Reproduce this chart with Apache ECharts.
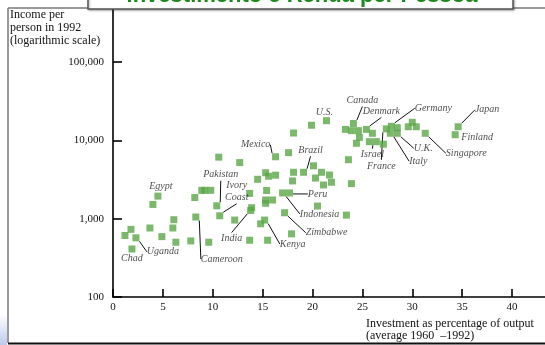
<!DOCTYPE html>
<html>
<head>
<meta charset="utf-8">
<script src="https://cdn.jsdelivr.net/npm/echarts@6/dist/echarts.min.js"></script>
<style>
  html, body { margin: 0; padding: 0; background: #fff; }
  #chart { width: 545px; height: 345px; }
</style>
</head>
<body>
<div id="chart"></div>
<script>
// Investment share of output (average 1960-1992, %) and income per person in 1992 (US$)
const investment = [1.2, 1.8, 2.3, 1.9, 3.7, 4.9, 4.5, 4.0, 6.0, 6.1, 6.3, 7.8, 8.2, 8.3, 8.9, 9.2, 9.8, 9.6, 10.4, 10.7,
  10.6, 12.7, 12.2, 13.7, 13.9, 13.8, 13.7, 14.5, 14.8, 15.2, 15.3, 15.6, 16.3, 15.4, 15.3, 15.3, 16.0, 15.5, 16.3, 17.6,
  17.0, 17.7, 17.2, 17.9, 18.1, 18.1, 19.1, 18.0, 19.9, 21.4, 20.1, 20.3, 20.9, 21.7, 21.1, 21.9, 20.5, 23.3, 23.9, 24.6,
  24.1, 25.4, 26.0, 24.7, 24.4, 25.7, 26.4, 27.1, 27.4, 27.9, 27.8, 28.5, 28.5, 29.6, 30.0, 30.4, 31.3, 34.6, 34.3, 23.6,
  23.9, 23.4];
const income = [610, 730, 570, 410, 760, 590, 1940, 1520, 760, 970, 500, 520, 1860, 1050, 2300, 2300, 2300, 500, 1460, 1090,
  6100, 5200, 960, 2100, 1380, 1270, 530, 3180, 860, 960, 3860, 3480, 3590, 2290, 1730, 1570, 1730, 530, 6170, 6960,
  2130, 2130, 1190, 640, 12400, 3910, 3910, 3030, 15600, 17800, 4730, 3300, 3910, 3610, 2690, 2920, 1450, 13800, 13300, 13300,
  16400, 13800, 12300, 10900, 9170, 9610, 9610, 8930, 14000, 15100, 12300, 14500, 12300, 14900, 17000, 14900, 12300, 14900, 11800, 5660,
  2800, 1110];
const countries = ['', '', 'Uganda', 'Chad', '', '', 'Egypt', '', '', '', '', '', '', 'Cameroon', '', '', '', '', 'Pakistan', 'Ivory Coast',
  '', '', '', '', '', 'India', '', '', '', 'Kenya', '', '', '', '', '', '', '', '', 'Mexico', '',
  'Indonesia', 'Peru', 'Zimbabwe', '', '', '', 'Brazil', '', '', 'U.S.', '', '', '', '', '', '', '', '', '', '',
  'Canada', 'Denmark', '', '', '', '', 'Israel', '', 'France', 'Germany', 'Italy', '', 'U.K.', '', '', '', 'Singapore', 'Japan', 'Finland', '',
  '', ''];
const xTicks = [0, 5, 10, 15, 20, 25, 30, 35, 40];
const yTicks = [100, 1000, 10000, 100000];

// where each country name sits relative to its square (px)
const labelShift = {
  'Canada': [9, -23], 'Denmark': [15, -18], 'Germany': [42, -18], 'Japan': [29, -17], 'Finland': [22, 3],
  'Singapore': [41, 20], 'U.K.': [26, 15], 'Italy': [28, 28], 'France': [-5, 37], 'Israel': [-4, 13],
  'U.S.': [-2, -8], 'Brazil': [7, -22], 'Mexico': [-20, -12], 'Peru': [28, 1], 'Indonesia': [37, 21],
  'Zimbabwe': [42, 20], 'Kenya': [28, 24], 'India': [-19, 28], 'Ivory Coast': [17, -24], 'Pakistan': [4, -31],
  'Cameroon': [26, 42], 'Egypt': [3, -10], 'Uganda': [27, 14], 'Chad': [0, 9]
};
const noLeader = ['Finland', 'U.S.', 'Egypt', 'Chad'];

const serif = 'Liberation Serif';
const points = investment.map((x, i) => {
  const name = countries[i];
  const item = { name: name, value: [x, income[i]] };
  if (name) {
    item.label = { show: true };
    item.labelLine = { show: noLeader.indexOf(name) < 0 };
  }
  return item;
});

const chart = echarts.init(document.getElementById('chart'), null, { renderer: 'canvas' });
chart.setOption({
  animation: false,
  backgroundColor: '#fff',
  grid: { left: 113, right: -16.9, top: -16.33, bottom: 48, containLabel: false, outerBoundsMode: 'none' },
  xAxis: {
    type: 'value', min: 0, max: 45, interval: 5,
    axisLine: { show: true, lineStyle: { color: '#000', width: 1.6 } },
    axisTick: { show: true, inside: true, length: 8, lineStyle: { color: '#000', width: 1.6 } },
    axisLabel: {
      margin: 5, fontFamily: serif, fontSize: 11, color: '#111',
      formatter: v => (xTicks.indexOf(v) >= 0 ? String(v) : '')
    },
    splitLine: { show: false }
  },
  yAxis: {
    type: 'log', logBase: 10, min: 100, max: 1000000,
    axisLine: { show: true, lineStyle: { color: '#000', width: 1.6 } },
    axisTick: { show: true, inside: true, length: 9, lineStyle: { color: '#000', width: 1.6 } },
    axisLabel: {
      margin: 9, fontFamily: serif, fontSize: 11, color: '#111',
      formatter: v => (yTicks.indexOf(Math.round(v)) >= 0 ? Math.round(v).toLocaleString('en-US') : '')
    },
    splitLine: { show: false },
    minorTick: { show: false }
  },
  series: [{
    type: 'scatter',
    symbol: 'rect',
    symbolSize: 7,
    itemStyle: { color: '#5aa646' },
    data: points,
    label: {
      show: false,
      position: 'inside',
      align: 'center',
      verticalAlign: 'middle',
      fontFamily: serif,
      fontStyle: 'italic',
      fontSize: 10,
      lineHeight: 12,
      color: '#222',
      formatter: p => (p.name === 'Ivory Coast' ? 'Ivory\nCoast' : p.name)
    },
    labelLine: { show: true, lineStyle: { color: '#111', width: 1 } },
    labelLayout: params => {
      const s = labelShift[countries[params.dataIndex]];
      return s ? { dx: s[0], dy: s[1] } : {};
    },
    emphasis: { disabled: true }
  }],
  graphic: [
    // slide frame
    { type: 'line', z: 50, shape: { x1: 8, y1: 8, x2: 8, y2: 343 }, style: { stroke: '#777', lineWidth: 1.5 } },
    { type: 'line', z: 50, shape: { x1: 8, y1: 8, x2: 545, y2: 8 }, style: { stroke: '#777', lineWidth: 1.5 } },
    { type: 'line', z: 50, shape: { x1: 8, y1: 343.5, x2: 545, y2: 343.5 }, style: { stroke: '#111', lineWidth: 2 } },
    {
      type: 'rect', z: 49, shape: { x: 0, y: 314, width: 7, height: 31 },
      style: { fill: new echarts.graphic.LinearGradient(0, 0, 0, 1, [{ offset: 0, color: '#ffffff' }, { offset: 1, color: '#bccbeb' }]) }
    },
    // title banner
    {
      type: 'rect', z: 60, shape: { x: 88, y: -12, width: 425, height: 21 },
      style: { fill: '#fff', stroke: '#555', lineWidth: 1.5, shadowBlur: 2, shadowColor: 'rgba(0,0,0,0.3)', shadowOffsetX: 1, shadowOffsetY: 1 }
    },
    {
      type: 'text', z: 61, x: 302, y: -4,
      style: {
        text: 'Investimento e Renda per Pessoa', fill: '#1b8a1b',
        font: 'bold 22px "Liberation Sans"', align: 'center', verticalAlign: 'middle'
      }
    },
    // axis titles
    {
      type: 'text', z: 55, x: 10, y: 8,
      style: {
        text: 'Income per\nperson in 1992\n(logarithmic scale)', fill: '#111',
        font: '12px "Liberation Serif"', lineHeight: 13, align: 'left', verticalAlign: 'top'
      }
    },
    {
      type: 'text', z: 55, x: 366, y: 318,
      style: {
        text: 'Investment as percentage of output\n(average 1960  \u20131992)', fill: '#111',
        font: '12px "Liberation Serif"', lineHeight: 12, align: 'left', verticalAlign: 'top'
      }
    }
  ]
});
</script>
</body>
</html>
